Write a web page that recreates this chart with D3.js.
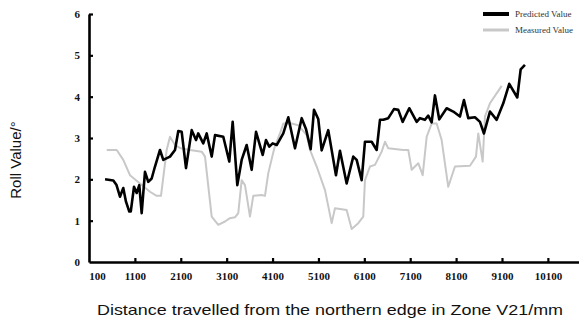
<!DOCTYPE html>
<html>
<head>
<meta charset="utf-8">
<script src="https://cdn.jsdelivr.net/npm/d3@7"></script>
<style>
  body { margin: 0; background: #fff; }
  svg { display: block; }
</style>
</head>
<body>
<div id="chart"></div>
<script>
// distance (mm) / roll value (deg)
const predDist = [450, 630, 700, 775, 847, 906, 978, 1010, 1081, 1139, 1196, 1248, 1320, 1392, 1466, 1538,
  1647, 1719, 1865, 1974, 2046, 2120, 2214, 2338, 2432, 2480, 2590, 2665, 2774, 2846, 3026, 3157, 3231, 3332,
  3427, 3536, 3645, 3740, 3885, 3957, 4029, 4103, 4190, 4334, 4443, 4589, 4735, 4828, 4931, 5003, 5096, 5170,
  5314, 5482, 5569, 5715, 5859, 5933, 6042, 6114, 6260, 6369, 6441, 6513, 6622, 6746, 6840, 6935, 7079, 7241,
  7312, 7421, 7493, 7567, 7639, 7733, 7894, 8038, 8184, 8271, 8365, 8511, 8620, 8707, 8838, 8984, 9128, 9258,
  9433, 9507, 9600];
const predValue = [2.00, 1.97, 1.86, 1.58, 1.79, 1.46, 1.22, 1.22, 1.82, 1.67, 1.86, 1.18, 2.18, 1.94, 2.02, 2.31,
  2.71, 2.47, 2.55, 2.71, 3.17, 3.15, 2.27, 3.19, 2.95, 3.11, 2.87, 3.11, 2.55, 3.07, 3.03, 2.43, 3.39, 1.86,
  2.47, 2.83, 2.23, 3.15, 2.59, 2.95, 2.79, 2.87, 2.83, 3.11, 3.50, 2.75, 3.48, 3.22, 2.73, 3.68, 3.46, 2.70,
  3.19, 2.10, 2.69, 1.90, 2.55, 2.47, 1.98, 2.91, 2.91, 2.71, 3.44, 3.44, 3.48, 3.70, 3.68, 3.39, 3.72, 3.39,
  3.48, 3.44, 3.54, 3.38, 4.03, 3.45, 3.72, 3.64, 3.52, 3.92, 3.48, 3.50, 3.39, 3.11, 3.64, 3.44, 3.84, 4.31,
  3.98, 4.66, 4.77];

const measDist = [486, 704, 847, 993, 1211, 1429, 1575, 1669, 1793, 1865, 1974, 2100, 2301, 2556, 2628, 2774,
  2917, 3063, 3172, 3281, 3353, 3427, 3499, 3608, 3680, 3863, 3935, 4007, 4138, 4262, 4334, 4517, 4661, 4844,
  4916, 5062, 5243, 5389, 5460, 5715, 5824, 5968, 6077, 6114, 6223, 6332, 6478, 6550, 6622, 6950, 7058, 7132,
  7276, 7372, 7459, 7567, 7676, 7785, 7929, 8075, 8402, 8533, 8583, 8679, 8729, 8838, 9093];
const measValue = [2.71, 2.71, 2.47, 2.10, 1.90, 1.70, 1.60, 1.60, 2.71, 3.03, 2.83, 2.75, 2.71, 2.67, 2.55, 1.10,
  0.90, 0.98, 1.06, 1.08, 1.18, 1.98, 1.86, 1.10, 1.60, 1.62, 1.60, 2.15, 2.75, 3.11, 3.35, 3.35, 3.31, 3.07,
  2.71, 2.31, 1.74, 0.94, 1.30, 1.26, 0.80, 0.94, 1.10, 1.98, 2.31, 2.35, 2.67, 2.91, 2.75, 2.71, 2.71, 2.23,
  2.39, 2.10, 3.03, 3.35, 3.35, 2.95, 1.82, 2.31, 2.33, 2.55, 3.11, 2.43, 3.52, 3.84, 4.26];

const xTicks = [100, 1100, 2100, 3100, 4100, 5100, 6100, 7100, 8100, 9100, 10100];
const yTicks = [0, 1, 2, 3, 4, 5, 6];
const seriesNames = ['Predicted Value', 'Measured Value'];

const width = 579;
const height = 320;
const margin = { top: 14, right: 0, bottom: 58, left: 89 };

const svg = d3.select('#chart')
  .append('svg')
  .attr('width', width)
  .attr('height', height);

const x = d3.scaleLinear()
  .domain([100, 10800])
  .range([margin.left, width + 1]);

const y = d3.scaleLinear()
  .domain([0, 6])
  .range([height - margin.bottom, margin.top]);

// Axes
const xAxis = svg.append('g')
  .attr('transform', 'translate(0,' + (height - margin.bottom) + ')')
  .call(d3.axisBottom(x).tickValues(xTicks).tickFormat(d3.format('d'))
    .tickSizeInner(-4).tickSizeOuter(0).tickPadding(10));

xAxis.select('.domain').attr('stroke-width', 2.6);
xAxis.selectAll('.tick line').attr('stroke-width', 2.2);
xAxis.selectAll('.tick').filter(d => d === 100).select('line').remove();
xAxis.selectAll('.tick text')
  .attr('font-family', '"Liberation Serif", serif')
  .attr('font-weight', 'bold')
  .attr('font-size', 11)
  .attr('fill', '#111')
  .attr('dx', d => d === 100 ? 8 : 0);

const yAxis = svg.append('g')
  .attr('transform', 'translate(' + margin.left + ',0)')
  .call(d3.axisLeft(y).tickValues(yTicks).tickFormat(d3.format('d'))
    .tickSizeInner(-4).tickSizeOuter(0).tickPadding(9));

yAxis.select('.domain').attr('stroke-width', 2.6);
yAxis.selectAll('.tick line').attr('stroke-width', 2.2);
yAxis.selectAll('.tick').filter(d => d === 0).select('line').remove();
yAxis.selectAll('.tick text')
  .attr('font-family', '"Liberation Serif", serif')
  .attr('font-weight', 'bold')
  .attr('font-size', 11)
  .attr('fill', '#111');

// Lines
const line = d3.line()
  .x(d => x(d[0]))
  .y(d => y(d[1]));

svg.append('path')
  .datum(d3.zip(measDist, measValue))
  .attr('fill', 'none')
  .attr('stroke', '#c8c8c8')
  .attr('stroke-width', 2)
  .attr('stroke-linejoin', 'round')
  .attr('d', line);

svg.append('path')
  .datum(d3.zip(predDist, predValue))
  .attr('fill', 'none')
  .attr('stroke', '#000')
  .attr('stroke-width', 2.6)
  .attr('stroke-linejoin', 'round')
  .attr('d', line);

// Legend (pulled a little left so the labels fit inside the frame)
const legend = svg.append('g')
  .selectAll('g')
  .data(seriesNames)
  .enter()
  .append('g')
  .attr('transform', (d, i) => 'translate(483,' + (14 + i * 16) + ')');

legend.append('line')
  .attr('x1', 0)
  .attr('x2', 26)
  .attr('stroke', (d, i) => i === 0 ? '#000' : '#c8c8c8')
  .attr('stroke-width', (d, i) => i === 0 ? 4 : 3);

legend.append('text')
  .attr('x', 32)
  .attr('dy', '0.35em')
  .attr('font-family', '"Liberation Serif", serif')
  .attr('font-size', 9)
  .attr('fill', '#333')
  .text(d => d);

// Axis titles
svg.append('text')
  .attr('transform', 'translate(21,160) rotate(-90)')
  .attr('text-anchor', 'middle')
  .attr('font-family', '"Liberation Sans", Arial, sans-serif')
  .attr('font-size', 15)
  .attr('fill', '#111')
  .text('Roll Value/°');

svg.append('text')
  .attr('x', 330)
  .attr('y', 315)
  .attr('text-anchor', 'middle')
  .attr('font-family', '"Liberation Sans", Arial, sans-serif')
  .attr('font-size', 15)
  .attr('textLength', 466)
  .attr('lengthAdjust', 'spacingAndGlyphs')
  .attr('fill', '#111')
  .text('Distance travelled from the northern edge in Zone V21/mm');
</script>
</body>
</html>
